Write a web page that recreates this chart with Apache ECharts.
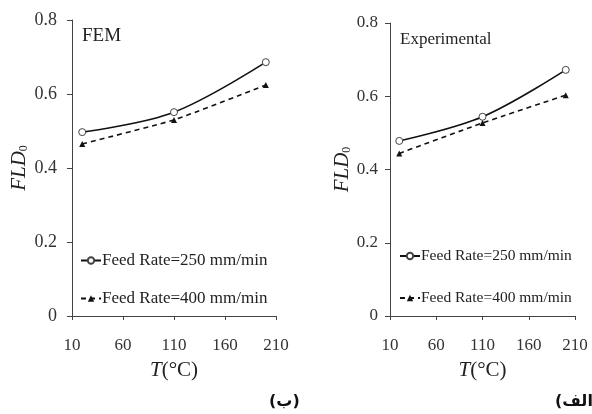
<!DOCTYPE html>
<html><head><meta charset="utf-8">
<script src="https://cdn.jsdelivr.net/npm/echarts@6/dist/echarts.min.js"></script>
<style>html,body{margin:0;padding:0;background:#fff}#c{width:592px;height:414px}</style>
</head><body><div id="c"></div>
<script>
const temps = [20, 110, 200];
const xTicks = [10, 60, 110, 160, 210];
const yTicks = [0, 0.2, 0.4, 0.6, 0.8];
const femRate250 = [0.497, 0.551, 0.686];
const femRate400 = [0.465, 0.530, 0.624];
const expRate250 = [0.478, 0.544, 0.672];
const expRate400 = [0.444, 0.527, 0.603];
const panelTitles = ['FEM', 'Experimental'];
const panelTags = ['(ب)', '(الف)'];
const seriesNames = ['Feed Rate=250 mm/min', 'Feed Rate=400 mm/min'];

const FONT = 'Liberation Serif';
const pair = (xs, ys) => xs.map((x, i) => [x, ys[i]]);

const grids = [
  {left: 72, width: 204, top: 20, bottom: 98},
  {left: 390, width: 185, top: 23, bottom: 98}
];
function xAx(i, fs, nfs) {
  return {
    gridIndex: i, type: 'value', min: xTicks[0], max: xTicks[xTicks.length - 1], interval: 50,
    axisLine: {lineStyle: {color: '#444', width: 1}},
    axisTick: {show: true, length: 4, inside: false, lineStyle: {color: '#444'}},
    axisLabel: {fontFamily: FONT, fontSize: fs, color: '#333', margin: 21},
    splitLine: {show: false},
    name: '{i|T}{n|(°C)}', nameLocation: 'middle', nameGap: 44,
    nameTextStyle: {rich: {
      i: {fontFamily: FONT, fontStyle: 'italic', fontSize: nfs, color: '#222'},
      n: {fontFamily: FONT, fontSize: nfs, color: '#222'}
    }}
  };
}
function yAx(i, fs, margin, gap) {
  return {
    gridIndex: i, type: 'value', min: yTicks[0], max: yTicks[yTicks.length - 1], interval: 0.2,
    axisLine: {show: true, lineStyle: {color: '#444', width: 1}},
    axisTick: {show: true, length: 5, lineStyle: {color: '#444'}},
    axisLabel: {fontFamily: FONT, fontSize: fs, color: '#333', margin: margin,
      formatter: v => (v === 0 ? '0' : v.toFixed(1))},
    splitLine: {show: false},
    name: '{i|FLD}{s|0}', nameLocation: 'middle', nameGap: gap, nameRotate: 90,
    nameTextStyle: {rich: {
      i: {fontFamily: FONT, fontStyle: 'italic', fontSize: 21, color: '#222'},
      s: {fontFamily: FONT, fontSize: 12, color: '#222', verticalAlign: 'bottom', padding: [8, 0, 0, 0]}
    }}
  };
}
function solid(i, data) {
  return {type: 'line', name: seriesNames[0], xAxisIndex: i, yAxisIndex: i, data: pair(temps, data),
    smooth: 0.35, symbol: 'circle', symbolSize: 7, showSymbol: true,
    lineStyle: {color: '#111', width: 1.6, type: 'solid'},
    itemStyle: {color: '#fff', borderColor: '#444', borderWidth: 1}};
}
function dashed(i, data) {
  return {type: 'line', name: seriesNames[1], xAxisIndex: i, yAxisIndex: i, data: pair(temps, data),
    smooth: 0.15, symbol: 'triangle', symbolSize: 6, showSymbol: true,
    lineStyle: {color: '#111', width: 1.6, type: [5, 4]},
    itemStyle: {color: '#111', borderColor: '#111', borderWidth: 0}};
}
function legend(left, top, gap, fs) {
  return {
    orient: 'vertical', left: left, top: top, itemGap: gap, itemWidth: 20, itemHeight: 8,
    data: seriesNames.map(n => ({name: n})),
    textStyle: {fontFamily: FONT, fontSize: fs, color: '#222', padding: [0, 0, 0, -4]},
    selectedMode: false
  };
}
const chart = echarts.init(document.getElementById('c'), null, {renderer: 'canvas'});
chart.setOption({
  animation: false,
  backgroundColor: '#fff',
  grid: grids,
  xAxis: [xAx(0, 17, 21), xAx(1, 17, 21)],
  yAxis: [yAx(0, 18, 15, 42), yAx(1, 17, 12, 33)],
  legend: [legend(75, 247, 21, 17), legend(394, 243, 26, 15.5)],
  series: [
    solid(0, femRate250), dashed(0, femRate400),
    solid(1, expRate250), dashed(1, expRate400)
  ],
  graphic: [
    {type: 'text', left: 82, top: 27, style: {text: panelTitles[0], fontFamily: FONT, fontSize: 19, fill: '#222'}},
    {type: 'text', left: 400, top: 31, style: {text: panelTitles[1], fontFamily: FONT, fontSize: 17, fill: '#222'}},
    {type: 'text', left: 269, top: 394, style: {text: panelTags[0], fontFamily: 'DejaVu Sans', fontWeight: 'bold', fontSize: 16, fill: '#111'}},
    {type: 'text', left: 555, top: 394, style: {text: panelTags[1], fontFamily: 'DejaVu Sans', fontWeight: 'bold', fontSize: 16, fill: '#111'}}
  ]
});
</script></body></html>
